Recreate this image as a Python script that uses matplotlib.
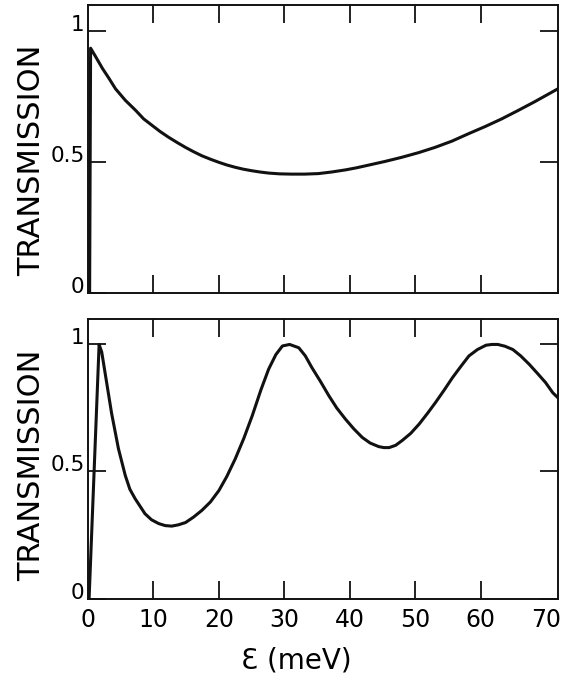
import matplotlib
matplotlib.use('Agg')
import matplotlib.pyplot as plt

# Values (energy in meV)
energy_top = [0.25, 0.4, 1.16, 2.2, 3.2, 4.2, 5.7, 7.3, 8.5, 9.8, 11.0, 12.3, 13.6,
              14.9, 16.1, 17.4, 18.7, 20.0, 21.2, 22.5, 23.7, 25.0, 26.3, 27.6, 29.3,
              31.1, 33.1, 35.2, 37.2, 39.3, 41.0, 42.8, 45.3, 47.9, 50.5, 53.0, 55.6,
              58.1, 60.7, 63.2, 65.7, 68.2, 70.0, 71.8]
trans_top = [0.0, 0.935, 0.903, 0.858, 0.82, 0.78, 0.736, 0.697, 0.665, 0.64, 0.617,
             0.595, 0.575, 0.556, 0.54, 0.524, 0.511, 0.499, 0.489, 0.48, 0.473, 0.467,
             0.462, 0.458, 0.455, 0.454, 0.454, 0.456, 0.462, 0.47, 0.478, 0.488, 0.502,
             0.518, 0.536, 0.556, 0.58, 0.608, 0.636, 0.665, 0.697, 0.73, 0.755, 0.78]

energy_bottom = [0.17, 1.7, 2.1, 2.6, 3.6, 4.65, 5.7, 6.4, 7.2, 8.7, 9.7, 10.8, 11.8,
                 12.8, 13.8, 14.9, 16.1, 17.4, 18.7, 20.0, 21.2, 22.5, 23.8, 25.1, 26.4,
                 27.6, 28.7, 29.7, 30.8, 32.2, 33.2, 34.2, 35.5, 36.8, 38.0, 39.3, 40.6,
                 41.9, 43.1, 44.4, 45.2, 46.0, 47.0, 48.0, 49.3, 50.6, 51.9, 53.1, 54.4,
                 55.7, 57.0, 58.2, 59.5, 60.8, 61.7, 62.6, 63.7, 64.9, 66.1, 67.4, 68.7,
                 69.9, 71.0, 72.0]
trans_bottom = [0.0, 1.0, 0.97, 0.89, 0.73, 0.59, 0.484, 0.43, 0.393, 0.334, 0.31, 0.295,
                0.287, 0.285, 0.29, 0.299, 0.32, 0.347, 0.38, 0.425, 0.48, 0.55, 0.63,
                0.72, 0.82, 0.903, 0.96, 0.994, 1.0, 0.987, 0.955, 0.909, 0.855, 0.798,
                0.75, 0.707, 0.668, 0.634, 0.612, 0.598, 0.594, 0.594, 0.603, 0.622, 0.65,
                0.687, 0.73, 0.772, 0.82, 0.87, 0.915, 0.955, 0.98, 0.997, 1.0, 1.0,
                0.993, 0.98, 0.955, 0.922, 0.885, 0.85, 0.81, 0.785]

x_ticks = [0, 10, 20, 30, 40, 50, 60, 70]
y_ticks = [0, 0.5, 1]
y_tick_labels = ['0', '0.5', '1']

fig = plt.figure(figsize=(5.68, 6.82), dpi=100)
ax_top = fig.add_axes([0.1549, 0.5704, 0.8275, 0.4223])
ax_bot = fig.add_axes([0.1549, 0.1224, 0.8275, 0.4098])

ax_top.plot(energy_top, trans_top, color='#111111', lw=2.2)
ax_bot.plot(energy_bottom, trans_bottom, color='#111111', lw=2.2)

for ax, label_y in [(ax_top, 0.462), (ax_bot, 0.478)]:
    ax.set_xlim(0, 71.8)
    ax.set_ylim(0, 1.1)
    ax.set_xticks(x_ticks)
    ax.set_yticks(y_ticks)
    ax.set_yticklabels(y_tick_labels)
    ax.tick_params(direction='in', length=13, width=1.3, top=True, right=True,
                   color='#111111')
    ax.tick_params(axis='y', labelsize=15.5, pad=2.5)
    ax.tick_params(axis='x', labelsize=17, pad=6.5)
    for lbl in ax.get_yticklabels():
        lbl.set_va('baseline')
    # no tick marks at 0 and 70 (they sit on / near the frame)
    for t in (ax.xaxis.get_major_ticks()[0], ax.xaxis.get_major_ticks()[-1]):
        t.tick1line.set_visible(False)
        t.tick2line.set_visible(False)
    for s in ax.spines.values():
        s.set_linewidth(1.4)
        s.set_color('#111111')
    ax.set_ylabel('TRANSMISSION', fontsize=22)
    ax.yaxis.set_label_coords(-0.09, label_y)

ax_top.tick_params(axis='x', labelbottom=False)
ax_bot.set_xlabel('Ɛ (meV)', fontsize=20)
ax_bot.xaxis.set_label_coords(0.443, -0.17)

fig.savefig('out.png', dpi=100, facecolor='white')
